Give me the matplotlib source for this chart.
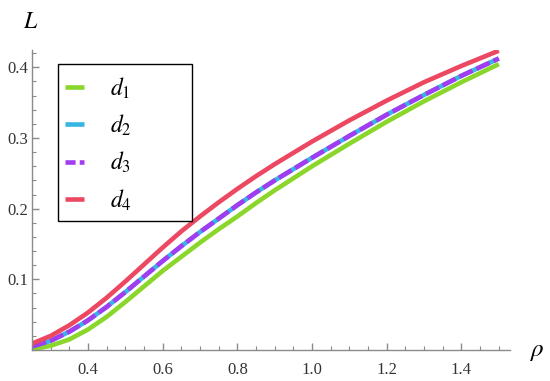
import numpy as np
import matplotlib
matplotlib.use("Agg")
import matplotlib.pyplot as plt
from matplotlib.patches import Rectangle
from matplotlib.lines import Line2D
from matplotlib.ticker import MultipleLocator, FixedLocator

plt.rcParams.update({
    "font.family": ["Liberation Serif", "DejaVu Serif"],
    "mathtext.fontset": "stix",
})

# values
rho = [0.25, 0.30, 0.35, 0.40, 0.45, 0.50, 0.55, 0.60, 0.65, 0.70, 0.75,
       0.80, 0.85, 0.90, 0.95, 1.00, 1.10, 1.20, 1.30, 1.40, 1.50]
L_d1 = [0.001, 0.006, 0.015, 0.029, 0.047, 0.068, 0.090, 0.112, 0.132, 0.152, 0.171,
        0.189, 0.208, 0.226, 0.243, 0.260, 0.292, 0.323, 0.352, 0.379, 0.4045]
L_d2 = [0.005, 0.013, 0.026, 0.042, 0.061, 0.082, 0.104, 0.126, 0.147, 0.167, 0.186,
        0.205, 0.223, 0.240, 0.256, 0.272, 0.303, 0.333, 0.361, 0.388, 0.4125]
L_d3 = L_d2
L_d4 = [0.009, 0.020, 0.035, 0.053, 0.074, 0.097, 0.121, 0.145, 0.168, 0.189, 0.209,
        0.228, 0.246, 0.263, 0.279, 0.295, 0.325, 0.353, 0.379, 0.402, 0.4235]

labels = [r"$d_\mathit{1}$", r"$d_\mathit{2}$", r"$d_\mathit{3}$", r"$d_\mathit{4}$"]
colors = ["#8ad62a", "#35b6e2", "#a23cf0", "#ec4862"]
styles = ["-", "-", (0, (3.2, 0.9)), "-"]

xticks = [0.4, 0.6, 0.8, 1.0, 1.2, 1.4]
yticks = [0.1, 0.2, 0.3, 0.4]

W, H = 550, 381
fig = plt.figure(figsize=(W / 100, H / 100), dpi=100)
ax = fig.add_axes([32 / W, 31 / H, (510 - 32) / W, (350 - 50) / H])

lw = 3.3
for y, c, ls, lab in zip([L_d1, L_d2, L_d3, L_d4], colors, styles, labels):
    ax.plot(rho, y, color=c, lw=lw, ls=ls, label=lab,
            solid_capstyle="butt", dash_capstyle="butt")

ax.set_xlim(0.25, 1.53)
ax.set_ylim(0, 0.4245)

for s in ["top", "right"]:
    ax.spines[s].set_visible(False)
for s in ["left", "bottom"]:
    ax.spines[s].set_color("#8a8a8a")
    ax.spines[s].set_linewidth(1.0)

ax.xaxis.set_major_locator(FixedLocator(xticks))
ax.yaxis.set_major_locator(FixedLocator(yticks))
ax.xaxis.set_minor_locator(MultipleLocator(0.05))
ax.yaxis.set_minor_locator(MultipleLocator(0.02))
ax.set_xticklabels([f"{v:.1f}" for v in xticks])
ax.set_yticklabels([f"{v:.1f}" for v in yticks])
ax.tick_params(which="both", direction="in", color="#8a8a8a", labelcolor="#333333",
               labelsize=12)
ax.tick_params(which="major", length=5, width=1.0)
ax.tick_params(which="minor", length=3, width=0.8)
ax.tick_params(axis="x", pad=9)
ax.tick_params(axis="y", pad=3)

fig.text(31 / W, 1 - 23 / H, r"$L$", fontsize=17, ha="center", va="center")
fig.text(536 / W, 1 - 352 / H, r"$\rho$", fontsize=18, ha="center", va="center")

# legend box drawn by hand to match the reference padding
def fx(px):
    return px / W

def fy(py):
    return 1 - py / H

fig.add_artist(Rectangle((fx(58), fy(221)), fx(192) - fx(58), fy(64) - fy(221),
                         transform=fig.transFigure, facecolor="white",
                         edgecolor="black", lw=1.0, zorder=5))
for k, (c, ls, lab) in enumerate(zip(colors, styles, labels)):
    yy = 87 + 37.3 * k
    dash = (0, (2.2, 0.9)) if ls != "-" else "-"
    fig.add_artist(Line2D([fx(65), fx(84)], [fy(yy), fy(yy)], transform=fig.transFigure,
                          color=c, lw=lw, ls=dash, solid_capstyle="butt",
                          dash_capstyle="butt", zorder=6))
    fig.text(fx(110), fy(yy + 1), lab, fontsize=17, ha="left", va="center", zorder=6)

fig.savefig("out.png", dpi=100)
